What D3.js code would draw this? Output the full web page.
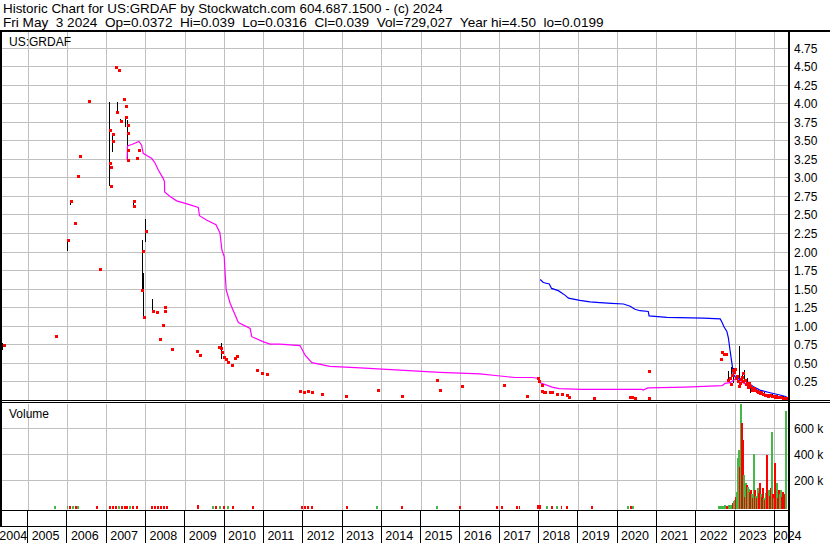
<!DOCTYPE html>
<html><head><meta charset="utf-8">
<script src="https://cdn.jsdelivr.net/npm/d3@7"></script>
<style>
body{margin:0;background:#fff}
svg{display:block}
text{font-family:"Liberation Sans",Arial,sans-serif;fill:#000;white-space:pre}
</style>
</head><body>
<svg id="c" width="830" height="543"></svg>
<script>
// ---------------- data ----------------
const titleText = "Historic Chart for US:GRDAF by Stockwatch.com 604.687.1500 - (c) 2024";
const subtitleText = "Fri May  3 2024  Op=0.0372  Hi=0.039  Lo=0.0316  Cl=0.039  Vol=729,027  Year hi=4.50  lo=0.0199";
const symbolText = "US:GRDAF";
const volumeText = "Volume";

const priceTicks = [0.25,0.5,0.75,1,1.25,1.5,1.75,2,2.25,2.5,2.75,3,3.25,3.5,3.75,4,4.25,4.5,4.75];
const priceTickLabels = ["0.25","0.50","0.75","1.00","1.25","1.50","1.75","2.00","2.25","2.50","2.75","3.00","3.25","3.50","3.75","4.00","4.25","4.50","4.75"];
const volTicks = [200000,400000,600000];
const volTickLabels = ["200 k","400 k","600 k"];
const yearLabels = ["2004","2005","2006","2007","2008","2009","2010","2011","2012","2013","2014","2015","2016","2017","2018","2019","2020","2021","2022","2023","2024"];
const startDate = "2004-05-03";
const endDate = "2024-05-03";

// closes (red dots): decimal year, price
const closeYears = [2004.39,2005.71,2006.02,2006.09,2006.19,2006.28,2006.32,2006.55,2006.83,2007.08,2007.08,2007.10,2007.10,2007.17,2007.17,2007.24,2007.25,2007.31,2007.36,2007.45,2007.49,2007.49,2007.54,2007.54,2007.55,2007.54,2007.70,2007.70,2007.76,2007.82,2007.91,2007.92,2007.95,2008.00,2008.18,2008.27,2008.36,2008.43,2008.48,2008.48,2008.65,2009.30,2009.37,2009.86,2009.90,2009.93,2009.99,2010.04,2010.09,2010.19,2010.26,2010.32,2010.82,2010.95,2011.08,2011.92,2012.02,2012.12,2012.22,2012.48,2013.09,2013.90,2014.51,2015.41,2015.48,2016.04,2017.11,2017.69,2017.98,2018.00,2018.08,2018.07,2018.13,2018.15,2018.28,2018.33,2018.45,2018.58,2018.71,2018.76,2019.40,2020.32,2020.37,2020.44,2020.79,2020.80,2022.62,2022.65,2022.71,2022.76,
  2022.82,2022.86,2022.88,2022.91,2022.94,2022.97,2022.99,2023.01,2023.03,2023.06,2023.08,2023.12,2023.14,2023.16,2023.18,2023.20,2023.24,2023.26,2023.29,2023.31,2023.33,2023.35,2023.37,2023.41,2023.43,2023.45,2023.48,2023.50,2023.55,2023.58,2023.62,2023.66,2023.70,2023.74,2023.79,2023.84,2023.88,2023.92,2023.96,2024.00,2024.03,2024.08,2024.13,2024.17,2024.21,2024.24,2024.26,2024.32];
const closeValues = [0.75,0.87,2.16,2.69,2.39,3.03,3.29,4.04,1.77,3.65,3.20,3.15,2.89,3.59,3.50,4.49,3.89,4.45,3.77,4.06,3.97,3.82,3.71,3.60,3.38,3.24,2.69,2.62,3.27,3.37,1.49,2.01,1.12,2.28,1.21,1.19,0.83,1.02,1.26,1.21,0.69,0.67,0.61,0.72,0.71,0.65,0.58,0.56,0.52,0.48,0.57,0.60,0.41,0.37,0.36,0.13,0.11,0.13,0.12,0.09,0.06,0.14,0.06,0.28,0.14,0.20,0.21,0.06,0.30,0.26,0.21,0.13,0.11,0.12,0.11,0.11,0.09,0.09,0.07,0.05,0.04,0.05,0.05,0.04,0.04,0.40,0.56,0.65,0.63,0.63,
  0.27,0.30,0.22,0.35,0.41,0.38,0.43,0.30,0.33,0.26,0.20,0.23,0.29,0.32,0.26,0.37,0.28,0.22,0.24,0.18,0.21,0.23,0.19,0.17,0.14,0.16,0.17,0.14,0.13,0.12,0.10,0.11,0.09,0.08,0.074,0.065,0.07,0.06,0.06,0.052,0.055,0.048,0.05,0.045,0.04,0.036,0.03,0.039];

// high-low ranges (black lines)
const rangeYears = [2004.36,2006.00,2006.08,2007.08,2007.15,2007.27,2007.36,2007.48,2007.52,2007.68,2007.90,2007.94,2007.98,2008.16,2009.93,2022.82,2022.89,2022.96,2023.09,2023.17,2023.22,2023.30,2023.37,2023.50,2023.62,2023.75,2023.93,2024.08,2024.23];
const rangeHighs = [0.77,2.18,2.69,4.02,3.59,4.02,3.79,3.83,3.78,2.70,2.16,1.72,2.45,1.37,0.77,0.40,0.45,0.44,0.74,0.39,0.41,0.30,0.24,0.18,0.13,0.11,0.09,0.07,0.06];
const rangeLows = [0.68,2.01,2.64,2.89,3.35,3.89,3.76,3.68,3.24,2.62,1.49,1.11,2.14,1.20,0.56,0.25,0.27,0.23,0.28,0.23,0.28,0.20,0.10,0.12,0.08,0.07,0.05,0.045,0.03];

// magenta average line
const avgYears = [2007.52,2007.53,2007.64,2007.82,2007.89,2007.93,2008.02,2008.15,2008.23,2008.31,2008.44,2008.47,2008.475,2008.61,2008.78,2009.04,2009.33,2009.36,2009.55,2009.78,2009.88,2009.93,2009.99,2010.01,2010.04,2010.14,2010.35,2010.65,2010.69,2010.99,2011.16,2011.41,2011.92,2012.05,2012.22,2012.68,2013.45,2014.46,2015.48,2016.50,2017.01,2017.39,2017.82,2017.97,2018.03,2018.23,2018.33,2018.51,2019.09,2020.62,2020.65,2020.77,2021.72,2022.66,2022.73,2022.86,2022.94,2023.00,2023.08,2023.15,2023.19,2023.30,2023.42,2023.54,2023.70,2023.88,2024.10,2024.30];
const avgValues = [3.24,3.43,3.45,3.49,3.44,3.33,3.30,3.26,3.20,3.11,2.99,2.95,2.81,2.75,2.69,2.65,2.60,2.49,2.43,2.37,2.26,2.03,1.94,1.74,1.49,1.31,1.05,0.97,0.86,0.79,0.76,0.76,0.74,0.61,0.51,0.46,0.44,0.41,0.38,0.36,0.33,0.31,0.31,0.30,0.24,0.20,0.18,0.16,0.15,0.15,0.14,0.17,0.18,0.20,0.23,0.24,0.27,0.29,0.30,0.26,0.24,0.21,0.16,0.12,0.09,0.074,0.05,0.03];

// blue average line
const longAvgYears = [2018.03,2018.11,2018.26,2018.32,2018.49,2018.66,2018.75,2019.04,2019.30,2019.55,2019.85,2020.15,2020.32,2020.44,2020.57,2020.78,2020.80,2021.25,2022.18,2022.61,2022.65,2022.71,2022.78,2022.82,2022.86,2022.92,2022.94,2022.99,2023.12,2023.29,2023.45,2023.62,2023.88,2024.13,2024.30];
const longAvgValues = [1.63,1.59,1.57,1.51,1.48,1.42,1.38,1.35,1.33,1.32,1.31,1.30,1.27,1.23,1.21,1.20,1.14,1.12,1.11,1.10,1.06,0.99,0.93,0.84,0.68,0.46,0.36,0.32,0.28,0.25,0.19,0.14,0.105,0.074,0.05];

// volume bars
const volYears = [2005.685,2006.00,2006.07,2006.14,2006.22,2006.27,2006.75,2007.08,2007.16,2007.24,2007.31,2007.39,2007.47,2007.52,2007.59,2007.67,2007.77,2008.15,2008.23,2008.31,2008.38,2008.46,2008.53,2009.32,2009.70,2009.78,2009.88,2009.99,2010.09,2010.21,2010.72,2011.97,2012.05,2012.12,2012.22,2013.11,2013.88,2014.51,2015.40,2015.99,2016.93,2017.06,2017.44,2017.50,2017.97,2018.02,2018.20,2018.33,2018.46,2018.57,2018.71,2019.35,2020.26,2020.34,2020.39,
  2022.580,2022.631,2022.682,2022.733,2022.784,2022.835,2022.886,2022.936,2022.962,2022.987,2023.013,2023.038,2023.064,2023.089,2023.115,2023.140,2023.166,2023.191,2023.216,2023.242,2023.267,2023.293,2023.318,2023.344,2023.369,2023.394,2023.420,2023.445,2023.471,2023.496,2023.522,2023.547,2023.573,2023.598,2023.623,2023.649,2023.674,2023.700,2023.725,2023.751,2023.776,2023.801,2023.827,2023.852,2023.878,2023.903,2023.929,2023.954,2023.980,2024.005,2024.030,2024.056,2024.081,2024.107,2024.132,2024.158,2024.183,2024.209,2024.234,2024.260,2024.285];
const volValues = [2500,2000,3000,2500,3000,2000,2500,3000,2000,2500,3000,2000,2500,3000,2000,2500,2000,2500,3000,2000,2500,2000,2500,9000,2500,3000,2000,2500,3000,2000,2500,3000,2500,3000,2000,2500,2000,2500,2000,2500,2000,2500,3000,2500,8000,9000,3000,2500,3000,2000,2500,2500,3000,2500,2000,
  3000,2000,3000,4000,3000,5000,8000,20000,35000,46000,72000,110000,367000,430000,300000,785000,636000,508000,238000,72000,180000,165000,150000,130000,110000,123000,90000,60000,400000,123000,80000,60000,140000,100000,180000,90000,70000,135000,60000,50000,100000,392000,70000,123000,80000,140000,572000,90000,60000,328000,100000,180000,60000,123000,90000,123000,70000,107000,80000,95000,733000];
const volUp = [1,1,0,1,0,1,0,0,0,0,1,0,0,0,1,0,0,0,0,0,0,0,0,0,1,0,1,0,1,0,0,0,0,0,0,0,1,0,1,0,0,0,0,0,0,0,1,0,1,0,0,0,1,0,1,
  1,1,1,1,0,1,1,0,1,1,
  0,1,1,1,0,1,0,0,1,0,
  1,0,1,1,0,0,1,0,1,0,
  1,0,1,0,0,1,0,0,1,0,
  1,0,0,1,0,0,1,0,1,0,
  0,1,0,0,1,1,0,0,0,0,
  1];

// ---------------- drawing ----------------
const svg = d3.select("#c");
const W = 830, H = 543;
const PL = 2, PR = 788, PT = 31, PB = 400.5, VT = 403, VB = 509, LR1 = 526;
const GRID = "#c0c0c0";

function yearToDate(v){
  const yr = Math.floor(v);
  const s = Date.UTC(yr,0,1), e = Date.UTC(yr+1,0,1);
  return new Date(s + (v-yr)*(e-s));
}
const parse = d3.utcParse("%Y-%m-%d");
const x = d3.scaleUtc().domain([parse(startDate), parse(endDate)]).range([PL, PR]);
const y = d3.scaleLinear().domain([0, 4.75]).range([PB, 48]);
const yv = d3.scaleLinear().domain([0, 600000]).range([506, 428]);
const cr = v => Math.round(v) + 0.5;

svg.append("rect").attr("width",W).attr("height",H).attr("fill","#fff");

// header
const t1 = svg.append("text").attr("x",3).attr("y",13).attr("font-size",12).text(titleText);
const t2 = svg.append("text").attr("x",3).attr("y",27).attr("font-size",12).text(subtitleText);
[[t1,440],[t2,601]].forEach(([t,w])=>{
  const m = t.node().getComputedTextLength();
  t.attr("font-size", 12*w/m);
});

const yearStarts = d3.utcYear.range(x.domain()[0], x.domain()[1]).filter(d => d > x.domain()[0]);

// grids
const grid = svg.append("g").attr("stroke",GRID).attr("stroke-width",1).attr("shape-rendering","crispEdges");
priceTicks.forEach(t => grid.append("line").attr("x1",PL).attr("x2",PR).attr("y1",cr(y(t)-0.5)).attr("y2",cr(y(t)-0.5)));
volTicks.forEach(t => grid.append("line").attr("x1",PL).attr("x2",PR).attr("y1",cr(yv(t)-0.5)).attr("y2",cr(yv(t)-0.5)));
yearStarts.forEach(d => {
  const xx = cr(x(d)-0.5);
  grid.append("line").attr("x1",xx).attr("x2",xx).attr("y1",PT+1).attr("y2",400);
  grid.append("line").attr("x1",xx).attr("x2",xx).attr("y1",VT+1).attr("y2",510);
});

// volume bars
const vb = svg.append("g").attr("shape-rendering","crispEdges");
volYears.forEach((yr,i) => {
  const xx = x(yearToDate(yr));
  const top = yv(volValues[i]);
  vb.append("rect").attr("x",xx-0.75).attr("width",1.5)
    .attr("y",top).attr("height",VB - top)
    .attr("fill", volUp[i] ? "#44b844" : "#ff0000");
});

// price panel clip
svg.append("clipPath").attr("id","pc").append("rect").attr("x",PL).attr("y",PT+1).attr("width",PR-PL).attr("height",PB-PT);
const pg = svg.append("g").attr("clip-path","url(#pc)");

// high-low lines
rangeYears.forEach((yr,i) => {
  const xx = cr(x(yearToDate(yr))-0.5);
  pg.append("line").attr("x1",xx).attr("x2",xx).attr("y1",y(rangeHighs[i])).attr("y2",y(rangeLows[i]))
    .attr("stroke","#000").attr("stroke-width",1).attr("shape-rendering","crispEdges");
});

const line = d3.line().x(d=>x(yearToDate(d[0]))).y(d=>y(d[1]));
pg.append("path").datum(d3.zip(avgYears,avgValues)).attr("d",line)
  .attr("fill","none").attr("stroke","#ff00ff").attr("stroke-width",1.2);
pg.append("path").datum(d3.zip(longAvgYears,longAvgValues)).attr("d",line)
  .attr("fill","none").attr("stroke","#0000ff").attr("stroke-width",1.2);

// close dots
closeYears.forEach((yr,i) => {
  const xx = x(yearToDate(yr)), yy = y(closeValues[i]);
  pg.append("rect").attr("x",Math.round(xx)-1.5).attr("y",Math.round(yy)-1.5).attr("width",3).attr("height",3)
    .attr("fill","#ff0000").attr("shape-rendering","crispEdges");
});

// frame lines
const fr = svg.append("g").attr("shape-rendering","crispEdges");
fr.append("rect").attr("x",0).attr("y",30).attr("width",W).attr("height",2).attr("fill","#000");
fr.append("rect").attr("x",0).attr("y",30).attr("width",2).attr("height",LR1-30).attr("fill","#000");
fr.append("rect").attr("x",788).attr("y",30).attr("width",2).attr("height",H-30).attr("fill","#000");
fr.append("rect").attr("x",0).attr("y",400).attr("width",W).attr("height",1).attr("fill","#000");
fr.append("rect").attr("x",0).attr("y",402).attr("width",W).attr("height",1).attr("fill","#000");
fr.append("rect").attr("x",0).attr("y",510).attr("width",790).attr("height",1).attr("fill","#000");
fr.append("rect").attr("x",0).attr("y",526).attr("width",790).attr("height",1).attr("fill","#000");
yearStarts.forEach(d => {
  fr.append("rect").attr("x",Math.round(x(d))-1).attr("y",510).attr("width",1).attr("height",H-510).attr("fill","#000");
});

// axis labels
priceTicks.forEach((t,i) => svg.append("text").attr("x",794).attr("y",y(t)+4.5).attr("font-size",12).text(priceTickLabels[i]));
volTicks.forEach((t,i) => svg.append("text").attr("x",794).attr("y",yv(t)+4.5).attr("font-size",12).text(volTickLabels[i]));

svg.append("text").attr("x",9).attr("y",46).attr("font-size",12).text(symbolText);
svg.append("text").attr("x",9).attr("y",418).attr("font-size",12).text(volumeText);

// year labels
const bounds = [x.range()[0], ...yearStarts.map(d=>x(d)), x.range()[1]];
yearLabels.forEach((lab,i) => {
  const a = bounds[i], b = bounds[i+1];
  const t = svg.append("text").attr("y",540).attr("font-size",12.5).text(lab);
  const w = t.node().getComputedTextLength();
  let xx;
  if (i === 0) xx = b - 1 - w;
  else if (i === yearLabels.length-1) xx = a - 1;
  else xx = a + 3.5;
  t.attr("x", xx);
});
</script>
</body></html>
